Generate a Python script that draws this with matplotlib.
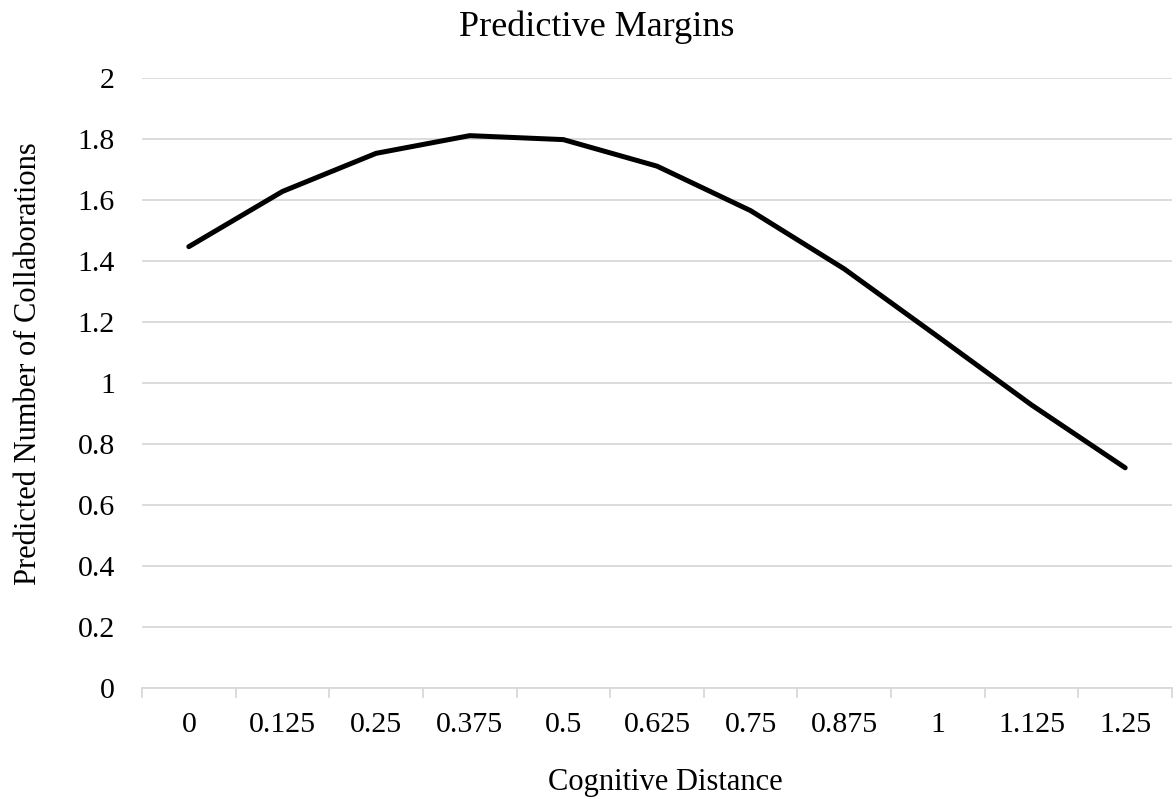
import matplotlib
matplotlib.use("Agg")
import matplotlib.pyplot as plt
import numpy as np

categories = ["0", "0.125", "0.25", "0.375", "0.5", "0.625", "0.75", "0.875", "1", "1.125", "1.25"]
values = [1.447, 1.628, 1.753, 1.811, 1.798, 1.711, 1.565, 1.374, 1.152, 0.928, 0.722]
yticks = [0, 0.2, 0.4, 0.6, 0.8, 1, 1.2, 1.4, 1.6, 1.8, 2]
ytick_labels = ["0", "0.2", "0.4", "0.6", "0.8", "1", "1.2", "1.4", "1.6", "1.8", "2"]

plt.rcParams['font.family'] = ['Liberation Serif', 'DejaVu Serif']

fig = plt.figure(figsize=(11.76, 7.99), dpi=100)
ax = fig.add_axes([142/1176, 111/799, 1030/1176, 610/799])

x = np.arange(len(categories))
ax.plot(x, values, color='black', linewidth=3.6, solid_capstyle='round', solid_joinstyle='round', zorder=3)

ax.set_xlim(-0.5, len(categories) - 0.5)
ax.set_ylim(0, 2)
ax.set_yticks(yticks)
ax.set_yticklabels(ytick_labels, fontsize=21.5)
ax.yaxis.grid(True, color='#d9d9d9', linewidth=1.3)
ax.set_axisbelow(True)
ax.tick_params(axis='y', length=0, pad=19.4)

ax.set_xticks(x)
ax.set_xticklabels(categories, fontsize=21.5)
ax.set_xticks(np.arange(-0.5, len(categories)), minor=True)
ax.tick_params(axis='x', which='major', length=0, pad=17)
ax.tick_params(axis='x', which='minor', length=7, color='#d9d9d9', width=1.3)

for s in ['top', 'right', 'left']:
    ax.spines[s].set_visible(False)
ax.spines['bottom'].set_color('#d9d9d9')
ax.spines['bottom'].set_linewidth(1.3)

ax.set_title("Predictive Margins", fontsize=26, pad=30, x=(597 - 142) / 1030)
ax.set_xlabel("Cognitive Distance", fontsize=22, labelpad=22)
ax.xaxis.label.set_x((665 - 142) / 1030)
ax.set_ylabel("Predicted Number of Collaborations", fontsize=22, labelpad=25)
ax.yaxis.label.set_y((688 - 364) / 610)

fig.savefig("out.png", dpi=100)
